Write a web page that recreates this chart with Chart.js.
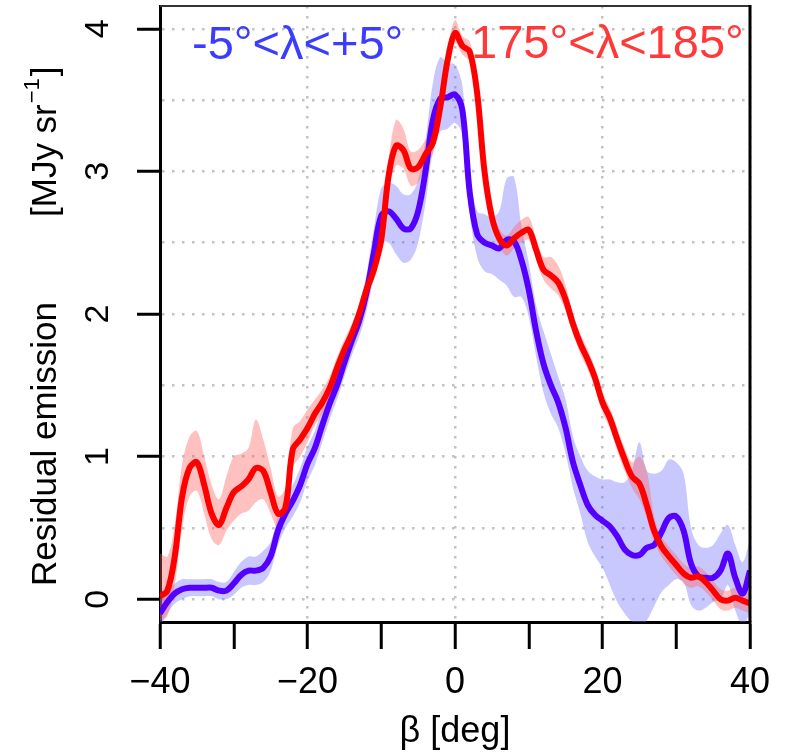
<!DOCTYPE html>
<html>
<head>
<meta charset="utf-8">
<script src="https://cdn.jsdelivr.net/npm/chart.js@4.4.1/dist/chart.umd.min.js"></script>
<style>
  html, body { margin: 0; padding: 0; background: #fff; }
  canvas { display: block; }
</style>
</head>
<body>
<canvas id="residualChart" width="790" height="753" style="width:790px;height:753px"></canvas>
<script>
// ecliptic latitude, degrees
const beta = [];
for (let b = -40; b <= 40; b++) beta.push(b);

// -5 < lambda < +5  (blue)
const blueMean = [
  -0.10, -0.02, 0.04, 0.07, 0.08, 0.08, 0.08, 0.08, 0.06, 0.06,
  0.11, 0.17, 0.20, 0.20, 0.22, 0.30, 0.48, 0.60, 0.69, 0.80,
  0.95, 1.06, 1.22, 1.37, 1.50, 1.66, 1.81, 1.95, 2.15, 2.43,
  2.69, 2.72, 2.67, 2.60, 2.60, 2.72, 3.00, 3.36, 3.51, 3.52,
  3.54, 3.43, 2.85, 2.56, 2.50, 2.48, 2.46, 2.52, 2.51, 2.38,
  2.17, 1.88, 1.65, 1.50, 1.38, 1.20, 0.96, 0.80, 0.66, 0.59,
  0.55, 0.51, 0.44, 0.35, 0.31, 0.31, 0.36, 0.38, 0.47, 0.57,
  0.58, 0.48, 0.25, 0.16, 0.15, 0.15, 0.20, 0.32, 0.15, 0.04,
  0.20
];
const blueLow = [
  -0.20, -0.10, -0.03, 0.00, 0.02, 0.02, 0.02, 0.02, 0.00, 0.00,
  0.03, 0.08, 0.10, 0.10, 0.12, 0.20, 0.38, 0.50, 0.58, 0.68,
  0.83, 0.94, 1.10, 1.26, 1.40, 1.56, 1.71, 1.84, 2.02, 2.26,
  2.50, 2.50, 2.42, 2.36, 2.38, 2.50, 2.78, 3.14, 3.28, 3.30,
  3.34, 3.26, 2.70, 2.40, 2.30, 2.28, 2.24, 2.20, 2.12, 2.12,
  1.98, 1.70, 1.45, 1.30, 1.20, 1.02, 0.78, 0.60, 0.40, 0.30,
  0.22, 0.10, -0.02, -0.10, -0.16, -0.20, -0.15, -0.05, 0.05, 0.10,
  0.14, 0.12, -0.04, -0.08, -0.06, -0.02, 0.00, 0.10, -0.08, -0.18,
  -0.10
];
const blueHigh = [
  0.00, 0.06, 0.11, 0.14, 0.14, 0.14, 0.14, 0.14, 0.12, 0.12,
  0.19, 0.26, 0.30, 0.30, 0.34, 0.40, 0.58, 0.70, 0.80, 0.92,
  1.07, 1.18, 1.34, 1.48, 1.60, 1.77, 1.92, 2.06, 2.28, 2.60,
  2.88, 2.92, 2.90, 2.84, 2.84, 2.94, 3.22, 3.62, 3.80, 3.76,
  3.75, 3.60, 3.00, 2.72, 2.70, 2.68, 2.72, 2.95, 2.96, 2.62,
  2.36, 2.06, 1.88, 1.72, 1.56, 1.40, 1.14, 1.00, 0.90, 0.86,
  0.84, 0.84, 0.82, 0.82, 0.90, 1.10, 0.90, 0.88, 0.90, 0.98,
  0.96, 0.88, 0.50, 0.38, 0.36, 0.38, 0.46, 0.52, 0.38, 0.26,
  0.42
];

// 175 < lambda < 185  (red)
const redMean = [
  0.02, 0.06, 0.30, 0.72, 0.92, 0.96, 0.80, 0.60, 0.52, 0.64,
  0.75, 0.79, 0.84, 0.92, 0.90, 0.75, 0.60, 0.64, 1.05, 1.12,
  1.20, 1.30, 1.38, 1.48, 1.62, 1.75, 1.86, 2.00, 2.17, 2.31,
  2.52, 2.97, 3.18, 3.15, 3.02, 3.03, 3.12, 3.20, 3.45, 3.78,
  3.97, 3.88, 3.84, 3.55, 3.00, 2.68, 2.53, 2.48, 2.53, 2.57,
  2.59, 2.45, 2.31, 2.27, 2.22, 2.10, 1.93, 1.79, 1.68, 1.55,
  1.38, 1.27, 1.12, 0.98, 0.86, 0.81, 0.66, 0.48, 0.37, 0.30,
  0.24, 0.18, 0.15, 0.16, 0.12, 0.06, 0.00, -0.01, 0.01, -0.01,
  -0.03
];
const redLow = [
  -0.15, -0.12, 0.10, 0.50, 0.72, 0.76, 0.60, 0.42, 0.38, 0.48,
  0.55, 0.60, 0.62, 0.68, 0.70, 0.60, 0.50, 0.55, 0.92, 1.00,
  1.10, 1.22, 1.30, 1.40, 1.55, 1.68, 1.79, 1.93, 2.10, 2.24,
  2.43, 2.86, 3.04, 3.02, 2.90, 2.92, 3.04, 3.12, 3.38, 3.70,
  3.90, 3.82, 3.77, 3.48, 2.93, 2.62, 2.47, 2.41, 2.46, 2.50,
  2.52, 2.38, 2.24, 2.18, 2.13, 2.02, 1.86, 1.72, 1.61, 1.48,
  1.31, 1.20, 1.04, 0.90, 0.78, 0.70, 0.57, 0.40, 0.30, 0.23,
  0.17, 0.11, 0.08, 0.09, 0.05, -0.01, -0.07, -0.08, -0.06, -0.08,
  -0.10
];
const redHigh = [
  0.32, 0.30, 0.52, 0.95, 1.14, 1.18, 1.00, 0.80, 0.70, 0.86,
  1.00, 1.02, 1.06, 1.26, 1.12, 0.92, 0.72, 0.78, 1.20, 1.25,
  1.33, 1.40, 1.47, 1.56, 1.70, 1.82, 1.93, 2.07, 2.25, 2.40,
  2.62, 3.08, 3.36, 3.30, 3.14, 3.15, 3.22, 3.28, 3.52, 3.86,
  4.06, 3.95, 3.91, 3.62, 3.07, 2.75, 2.60, 2.55, 2.61, 2.66,
  2.68, 2.53, 2.40, 2.40, 2.34, 2.20, 2.00, 1.86, 1.75, 1.62,
  1.45, 1.34, 1.20, 1.06, 0.96, 1.00, 0.90, 0.58, 0.44, 0.37,
  0.31, 0.25, 0.22, 0.23, 0.19, 0.13, 0.07, 0.06, 0.08, 0.06,
  0.04
];

const xTicks = [-40, -20, 0, 20, 40];
const yTicks = [0, 1, 2, 3, 4];

const FONT = "'Liberation Sans', Arial, sans-serif";

function pts(arr) {
  return beta.map((b, i) => ({ x: b, y: arr[i] }));
}

function lineSet(arr, color, order) {
  return {
    data: pts(arr),
    borderColor: color,
    borderWidth: 6,
    pointRadius: 0,
    tension: 0.35,
    fill: false,
    order: order
  };
}

function bandSet(arr, fillColor, fill, order) {
  return {
    data: pts(arr),
    borderWidth: 0,
    borderColor: 'rgba(0,0,0,0)',
    backgroundColor: fillColor,
    pointRadius: 0,
    tension: 0.35,
    fill: fill,
    order: order
  };
}

const blueBand = 'rgba(110, 110, 255, 0.38)';
const redBand = 'rgba(255, 90, 90, 0.38)';

// extra drawing: box, rotated y labels, axis titles, panel labels
const decorations = {
  id: 'decorations',
  afterDraw(chart) {
    const ctx = chart.ctx;
    const area = chart.chartArea;
    const yScale = chart.scales.y;

    ctx.save();
    // top and right frame
    ctx.strokeStyle = '#333';
    ctx.lineWidth = 2;
    ctx.beginPath();
    ctx.moveTo(area.left, area.top);
    ctx.lineTo(area.right, area.top);
    ctx.stroke();
    ctx.strokeStyle = '#000';
    ctx.lineWidth = 3;
    ctx.beginPath();
    ctx.moveTo(area.right, area.top - 1);
    ctx.lineTo(area.right, area.bottom);
    ctx.stroke();

    // y tick labels, rotated like R's default
    ctx.fillStyle = '#000';
    ctx.font = '34px ' + FONT;
    ctx.textAlign = 'center';
    ctx.textBaseline = 'alphabetic';
    yTicks.forEach(v => {
      const py = yScale.getPixelForValue(v);
      ctx.save();
      ctx.translate(108, py);
      ctx.rotate(-Math.PI / 2);
      ctx.fillText(String(v), 0, 0);
      ctx.restore();
    });

    // y axis title, two parts with superscript
    ctx.textAlign = 'left';
    ctx.save();
    ctx.translate(56, 586);
    ctx.rotate(-Math.PI / 2);
    ctx.font = '35px ' + FONT;
    ctx.fillText('Residual emission', 0, 0);
    ctx.restore();

    ctx.save();
    ctx.translate(56, 217);
    ctx.rotate(-Math.PI / 2);
    ctx.font = '35px ' + FONT;
    const unit = '[MJy sr';
    const wUnit = ctx.measureText(unit).width;
    ctx.fillText(unit, 0, 0);
    ctx.font = '22px ' + FONT;
    const sup = '\u22121';
    const wSup = ctx.measureText(sup).width;
    ctx.fillText(sup, wUnit + 1, -17);
    ctx.font = '35px ' + FONT;
    ctx.fillText(']', wUnit + wSup + 3, 0);
    ctx.restore();

    // x axis title
    ctx.font = '36px ' + FONT;
    ctx.textAlign = 'center';
    ctx.fillText('\u03B2 [deg]', (area.left + area.right) / 2, 742);

    // panel labels
    ctx.font = '47px ' + FONT;
    ctx.textAlign = 'left';
    ctx.fillStyle = '#3c3cff';
    ctx.fillText('-5\u00B0<\u03BB<+5\u00B0', 192, 59);
    ctx.fillStyle = '#ff3838';
    ctx.fillText('175\u00B0<\u03BB<185\u00B0', 471, 58);
    ctx.restore();
  }
};

const gridGray = '#c2c2c2';

const chart = new Chart(document.getElementById('residualChart').getContext('2d'), {
  type: 'line',
  data: {
    datasets: [
      bandSet(blueHigh, blueBand, '+1', 3),
      bandSet(blueLow, blueBand, false, 3),
      bandSet(redHigh, redBand, '+1', 2),
      bandSet(redLow, redBand, false, 2),
      lineSet(blueMean, '#5500ff', 1),
      lineSet(redMean, '#ff0000', 0)
    ]
  },
  options: {
    responsive: false,
    animation: false,
    layout: { padding: { top: 6, right: 40, left: 0, bottom: 0 } },
    plugins: {
      legend: { display: false },
      tooltip: { enabled: false },
      filler: { propagate: false }
    },
    scales: {
      x: {
        type: 'linear',
        min: -40,
        max: 40,
        afterFit: function (scale) { scale.height = 131; },
        ticks: {
          stepSize: 10,
          autoSkip: false,
          maxRotation: 0,
          padding: 12,
          color: '#000',
          font: { size: 36, family: FONT },
          callback: function (value) {
            if (!xTicks.includes(value)) return '';
            return value < 0 ? '\u2212' + Math.abs(value) : String(value);
          }
        },
        grid: {
          color: function (c) {
            return c.tick && xTicks.includes(c.tick.value) ? gridGray : 'rgba(0,0,0,0)';
          },
          lineWidth: 2.5,
          tickColor: '#000',
          tickLength: 27,
          tickWidth: 3
        },
        border: { color: '#000', width: 3, dash: [2.5, 7.5] }
      },
      y: {
        min: -0.16,
        max: 4.16,
        afterFit: function (scale) { scale.width = 160; },
        ticks: {
          stepSize: 0.5,
          includeBounds: false,
          display: false
        },
        grid: {
          color: function (c) {
            return c.tick && Number.isInteger(c.tick.value * 2) ? gridGray : 'rgba(0,0,0,0)';
          },
          lineWidth: 2.5,
          tickColor: function (c) {
            return c.tick && yTicks.includes(c.tick.value) ? '#000' : 'rgba(0,0,0,0)';
          },
          tickLength: 23,
          tickWidth: 3
        },
        border: { color: '#000', width: 3, dash: [2.5, 7.5] }
      }
    }
  },
  plugins: [decorations]
});
</script>
</body>
</html>
